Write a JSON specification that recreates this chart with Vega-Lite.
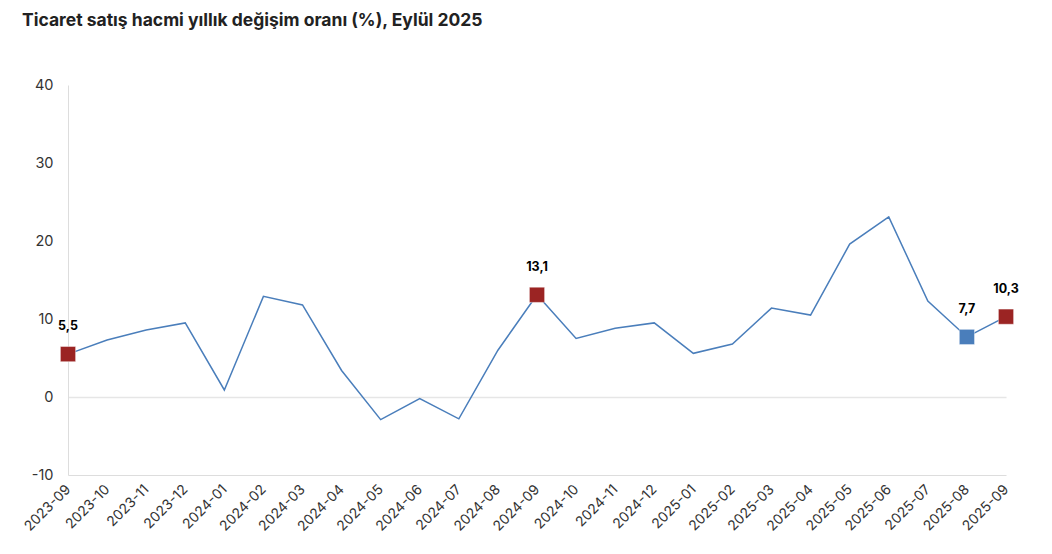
{
  "$schema": "https://vega.github.io/schema/vega-lite/v6.json",
  "width": 938,
  "height": 390,
  "autosize": {"type": "none"},
  "padding": {"left": 68, "top": 85, "right": 46, "bottom": 79},
  "background": "white",
  "config": {
    "font": "Inter",
    "view": {"stroke": null},
    "locale": {"number": {"decimal": ",", "thousands": ".", "grouping": [3], "currency": ["", ""], "minus": "-"}}
  },
  "title": {
    "text": "Ticaret satış hacmi yıllık değişim oranı (%), Eylül 2025",
    "anchor": "start",
    "frame": "group",
    "dx": -46,
    "offset": 48,
    "font": "Inter",
    "fontSize": 17.5,
    "fontWeight": "bold",
    "color": "#222222"
  },
  "data": {
    "values": [
      {"ay": "2023-09", "deger": 5.5, "isaret": "vurgu"},
      {"ay": "2023-10", "deger": 7.3, "isaret": null},
      {"ay": "2023-11", "deger": 8.6, "isaret": null},
      {"ay": "2023-12", "deger": 9.5, "isaret": null},
      {"ay": "2024-01", "deger": 0.9, "isaret": null},
      {"ay": "2024-02", "deger": 12.9, "isaret": null},
      {"ay": "2024-03", "deger": 11.8, "isaret": null},
      {"ay": "2024-04", "deger": 3.4, "isaret": null},
      {"ay": "2024-05", "deger": -2.9, "isaret": null},
      {"ay": "2024-06", "deger": -0.2, "isaret": null},
      {"ay": "2024-07", "deger": -2.8, "isaret": null},
      {"ay": "2024-08", "deger": 6.0, "isaret": null},
      {"ay": "2024-09", "deger": 13.1, "isaret": "vurgu"},
      {"ay": "2024-10", "deger": 7.5, "isaret": null},
      {"ay": "2024-11", "deger": 8.8, "isaret": null},
      {"ay": "2024-12", "deger": 9.5, "isaret": null},
      {"ay": "2025-01", "deger": 5.6, "isaret": null},
      {"ay": "2025-02", "deger": 6.8, "isaret": null},
      {"ay": "2025-03", "deger": 11.4, "isaret": null},
      {"ay": "2025-04", "deger": 10.5, "isaret": null},
      {"ay": "2025-05", "deger": 19.6, "isaret": null},
      {"ay": "2025-06", "deger": 23.1, "isaret": null},
      {"ay": "2025-07", "deger": 12.3, "isaret": null},
      {"ay": "2025-08", "deger": 7.7, "isaret": "onceki"},
      {"ay": "2025-09", "deger": 10.3, "isaret": "vurgu"}
    ]
  },
  "encoding": {
    "x": {
      "field": "ay",
      "type": "ordinal",
      "scale": {"type": "point", "padding": 0},
      "axis": {
        "title": null,
        "labelAngle": -45,
        "labelAlign": "right",
        "labelBaseline": "middle",
        "labelFontSize": 14,
        "labelColor": "#333333",
        "labelPadding": 12,
        "ticks": false,
        "domain": true,
        "domainColor": "#dddddd",
        "grid": false
      }
    },
    "y": {
      "field": "deger",
      "type": "quantitative",
      "scale": {"domain": [-10, 40], "nice": false},
      "axis": {
        "title": null,
        "values": [-10, 0, 10, 20, 30, 40],
        "format": "d",
        "labelFontSize": 14.5,
        "labelColor": "#333333",
        "labelPadding": 15,
        "ticks": false,
        "domain": true,
        "domainColor": "#dddddd",
        "grid": true,
        "gridColor": "#e6e6e6",
        "gridWidth": 1.5,
        "gridOpacity": {"condition": {"test": "datum.value === 0", "value": 1}, "value": 0}
      }
    }
  },
  "layer": [
    {
      "mark": {"type": "line", "color": "#4A7EBB", "strokeWidth": 1.5}
    },
    {
      "transform": [{"filter": "datum.isaret != null"}],
      "mark": {"type": "point", "shape": "square", "filled": true, "size": 230, "opacity": 1, "stroke": "#ffffff", "strokeOpacity": 0.4, "strokeWidth": 1},
      "encoding": {
        "color": {
          "field": "isaret",
          "type": "nominal",
          "scale": {"domain": ["vurgu", "onceki"], "range": ["#9B2423", "#4A7EBB"]},
          "legend": null
        }
      }
    },
    {
      "transform": [{"filter": "datum.isaret != null"}],
      "mark": {"type": "text", "dy": -28, "fontSize": 12.5, "fontWeight": "bold", "color": "#000000"},
      "encoding": {
        "text": {"field": "deger", "type": "quantitative", "format": ".1f"}
      }
    }
  ]
}
